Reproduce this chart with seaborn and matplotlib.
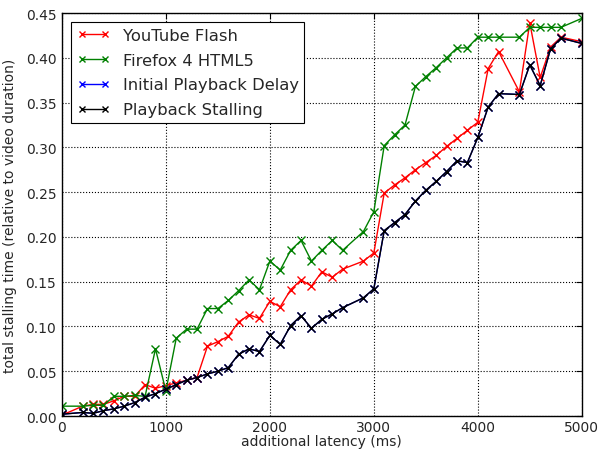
import pandas as pd
import matplotlib
matplotlib.use("Agg")
import matplotlib.pyplot as plt
import seaborn as sns

# latency steps (ms) - 100, 2800, 4300, 4900 were not measured
latency = [0, 200, 300, 400, 500, 600, 700, 800, 900, 1000,
           1100, 1200, 1300, 1400, 1500, 1600, 1700, 1800, 1900, 2000,
           2100, 2200, 2300, 2400, 2500, 2600, 2700, 2900, 3000,
           3100, 3200, 3300, 3400, 3500, 3600, 3700, 3800, 3900, 4000,
           4100, 4200, 4400, 4500, 4600, 4700, 4800, 5000]

youtube_flash = [0.001, 0.011, 0.013, 0.013, 0.017, 0.022, 0.022, 0.035, 0.031, 0.034,
                 0.037, 0.040, 0.043, 0.078, 0.083, 0.089, 0.105, 0.113, 0.109, 0.128,
                 0.122, 0.141, 0.152, 0.145, 0.161, 0.155, 0.164, 0.173, 0.182,
                 0.249, 0.258, 0.266, 0.275, 0.283, 0.291, 0.301, 0.310, 0.319, 0.328,
                 0.388, 0.407, 0.362, 0.439, 0.378, 0.412, 0.423, 0.418]

firefox_html5 = [0.011, 0.011, 0.012, 0.012, 0.022, 0.022, 0.023, 0.022, 0.075, 0.028,
                 0.087, 0.097, 0.097, 0.120, 0.120, 0.129, 0.140, 0.152, 0.141, 0.173,
                 0.163, 0.185, 0.196, 0.173, 0.185, 0.196, 0.185, 0.206, 0.228,
                 0.302, 0.314, 0.325, 0.368, 0.379, 0.389, 0.400, 0.411, 0.411, 0.423,
                 0.423, 0.423, 0.423, 0.434, 0.434, 0.434, 0.434, 0.444]

initial_delay = [0.002, 0.004, 0.003, 0.006, 0.008, 0.011, 0.015, 0.021, 0.025, 0.030,
                 0.035, 0.040, 0.043, 0.047, 0.050, 0.054, 0.069, 0.075, 0.072, 0.090,
                 0.080, 0.101, 0.112, 0.098, 0.108, 0.114, 0.121, 0.132, 0.142,
                 0.207, 0.216, 0.225, 0.240, 0.252, 0.262, 0.273, 0.285, 0.283, 0.311,
                 0.345, 0.360, 0.359, 0.392, 0.369, 0.410, 0.422, 0.416]

playback_stalling = [0.002, 0.004, 0.003, 0.006, 0.008, 0.011, 0.015, 0.021, 0.025, 0.030,
                     0.035, 0.040, 0.043, 0.047, 0.050, 0.054, 0.069, 0.075, 0.072, 0.090,
                     0.080, 0.101, 0.112, 0.098, 0.108, 0.114, 0.121, 0.132, 0.142,
                     0.207, 0.216, 0.225, 0.240, 0.252, 0.262, 0.273, 0.285, 0.283, 0.311,
                     0.345, 0.360, 0.359, 0.392, 0.369, 0.410, 0.422, 0.416]

series = {
    "YouTube Flash": (youtube_flash, "#ff0000"),
    "Firefox 4 HTML5": (firefox_html5, "#008000"),
    "Initial Playback Delay": (initial_delay, "#0000ff"),
    "Playback Stalling": (playback_stalling, "#000000"),
}

sns.set_style("white")
plt.rcParams["font.family"] = ["DejaVu Sans"]

fig = plt.figure(figsize=(6.01, 4.52), dpi=100)
ax = fig.add_axes([0.103, 0.0774, 0.865, 0.8916])

for name, (vals, col) in series.items():
    df = pd.DataFrame({"latency": latency, "stall": vals})
    sns.lineplot(data=df, x="latency", y="stall", ax=ax, color=col, label=name,
                 marker="x", markersize=5.5, markeredgewidth=1.0, linewidth=1.0,
                 markeredgecolor=col)

ax.set_xlim(0, 5000)
ax.set_ylim(0, 0.45)
ax.set_xticks([0, 1000, 2000, 3000, 4000, 5000])
ax.set_yticks([0.0, 0.05, 0.10, 0.15, 0.20, 0.25, 0.30, 0.35, 0.40, 0.45])
ax.set_yticklabels(["0.00", "0.05", "0.10", "0.15", "0.20", "0.25", "0.30", "0.35", "0.40", "0.45"])
ax.set_xlabel("additional latency (ms)", fontsize=10, labelpad=0)
ax.set_ylabel("total stalling time (relative to video duration)", fontsize=10, labelpad=6)
ax.tick_params(direction="in", top=True, right=True, length=4, width=0.8,
               labelsize=10, color="black")
ax.tick_params(axis="x", pad=3)
ax.tick_params(axis="y", pad=4)
ax.grid(True, color="black", linestyle=":", linewidth=0.8)
for s in ax.spines.values():
    s.set_color("black")
    s.set_linewidth(1.0)

leg = ax.legend(loc="upper left", numpoints=2, fontsize=11.8, fancybox=False,
                framealpha=1, edgecolor="black", handlelength=2.0,
                borderaxespad=0.55, labelspacing=0.6, markerscale=0.9,
                borderpad=0.35)
leg.get_frame().set_linewidth(0.8)

fig.savefig("out.png", dpi=100)
